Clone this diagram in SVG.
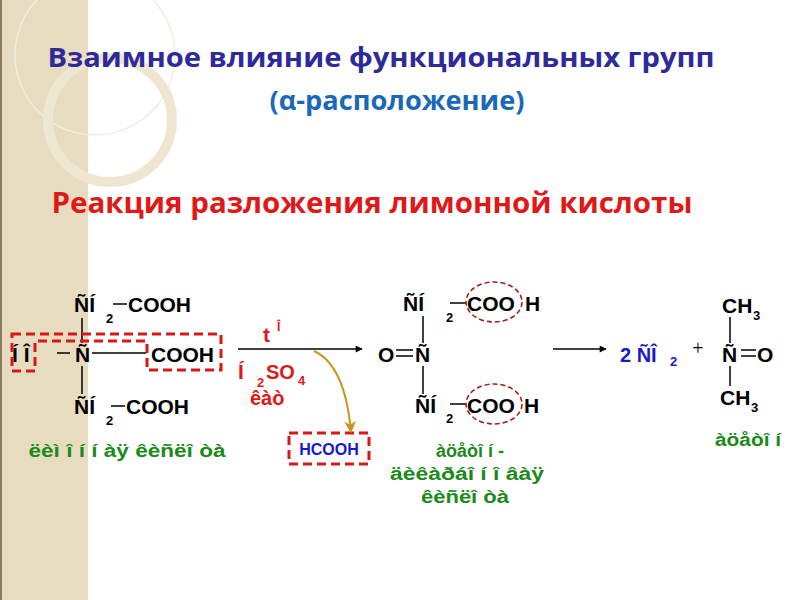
<svg xmlns="http://www.w3.org/2000/svg" width="800" height="600" viewBox="0 0 800 600">
<defs>
<style>
.t{font-family:"Liberation Sans",Arial,sans-serif;font-weight:bold;}
.k{fill:#000;font-size:21px}
.s{font-size:13px}
.g{fill:#1a8a1a;font-size:18px;text-anchor:middle}
.r{fill:#e01818}
.ln{stroke:#000;stroke-width:1.5;fill:none}
.dash{stroke:#d81818;stroke-width:3;stroke-dasharray:9 5;fill:none}
.ov{stroke:#a01818;stroke-width:1.5;stroke-dasharray:5 3;fill:none}
.h{font-family:"Open Sans","Noto Sans",sans-serif;font-weight:bold;text-anchor:middle}
</style>
<marker id="ah" viewBox="0 0 10 10" refX="9" refY="5" markerWidth="14" markerHeight="7" orient="auto" markerUnits="userSpaceOnUse"><path d="M0,0 L10,5 L0,10 Z" fill="#000"/></marker>
<marker id="ahb" viewBox="0 0 10 10" refX="9" refY="5" markerWidth="12" markerHeight="12" orient="auto" markerUnits="userSpaceOnUse"><path d="M0,0 L10,5 L0,10 L3,5 Z" fill="#c8961e"/></marker>
</defs>
<rect width="800" height="600" fill="#fff"/>
<rect x="0" y="0" width="88" height="600" fill="#e8dcc0"/>
<line x1="1" y1="0" x2="1" y2="600" stroke="#8a7a60" stroke-width="2"/>
<circle cx="95" cy="55" r="80" fill="none" stroke="#f3ecdc" stroke-width="1.5"/>
<circle cx="110" cy="120" r="62" fill="none" stroke="#efe6d2" stroke-width="10"/>
<text class="h" x="381" y="67" font-size="26" fill="#2e2a9a" textLength="667" lengthAdjust="spacingAndGlyphs">Взаимное влияние функциональных групп</text>
<text class="h" x="397" y="110" font-size="26" fill="#1a68b8" textLength="255" lengthAdjust="spacingAndGlyphs">(α-расположение)</text>
<text class="h" x="372" y="213" font-size="28" fill="#e01818" textLength="641" lengthAdjust="spacingAndGlyphs">Реакция разложения лимонной кислоты</text>
<g id="reactant">
<text class="t k" x="74" y="312">ÑÍ</text><text class="t s" x="106" y="323">2</text>
<line class="ln" x1="113" y1="304" x2="127" y2="304"/><text class="t k" x="128" y="312">COOH</text>
<text class="t k" x="12" y="362">Í Î</text><line class="ln" x1="57" y1="353" x2="70" y2="353"/>
<text class="t k" x="75" y="362">Ñ</text><line class="ln" x1="92" y1="353" x2="146" y2="353"/>
<text class="t k" x="151" y="362">COOH</text>
<line class="ln" x1="82" y1="318" x2="82" y2="343"/><line class="ln" x1="82" y1="366" x2="82" y2="394"/>
<text class="t k" x="74" y="414">ÑÍ</text><text class="t s" x="106" y="425">2</text>
<line class="ln" x1="111" y1="406" x2="125" y2="406"/><text class="t k" x="126" y="414">COOH</text>
<path class="dash" d="M12,334 H221 V370 H147 V341 H35 V371 H12 Z"/>
<text class="t g" x="127" y="457" textLength="197" lengthAdjust="spacingAndGlyphs">ëèì î í í àÿ êèñëî òà</text>
</g>
<g id="conditions">
<text class="t r" x="263" y="342" font-size="21">t</text><text class="t r" x="277" y="331" font-size="12">Î</text>
<text class="t r" x="238" y="379" font-size="21">Í</text><text class="t r" x="257" y="387" font-size="13">2</text><text class="t r" x="266" y="379" font-size="20">SO</text><text class="t r" x="298" y="385" font-size="13">4</text>
<text class="t r" x="250" y="405" font-size="20">êàò</text>
</g>
<g id="hcooh">
<rect class="dash" x="289" y="433" width="80" height="31"/>
<text class="t" x="329" y="455" font-size="16" fill="#1818d0" text-anchor="middle">HCOOH</text>
</g>
<g id="intermediate">
<text class="t k" x="403" y="311">ÑÍ</text><text class="t s" x="446" y="322">2</text>
<line class="ln" x1="450" y1="303" x2="466" y2="303"/><text class="t k" x="467" y="311">COO</text><text class="t k" x="525" y="311">H</text>
<ellipse class="ov" cx="494" cy="302" rx="28" ry="20"/>
<text class="t k" x="378" y="362">O</text>
<line class="ln" x1="396" y1="350" x2="413" y2="350"/><line class="ln" x1="396" y1="356" x2="413" y2="356"/>
<text class="t k" x="415" y="362">Ñ</text>
<line class="ln" x1="423" y1="316" x2="423" y2="343"/><line class="ln" x1="423" y1="366" x2="423" y2="394"/>
<text class="t k" x="415" y="413">ÑÍ</text><text class="t s" x="446" y="423">2</text>
<line class="ln" x1="450" y1="404" x2="466" y2="404"/><text class="t k" x="467" y="413">COO</text><text class="t k" x="524" y="413">H</text>
<ellipse class="ov" cx="494" cy="404" rx="28" ry="20"/>
<text class="t g" x="470" y="457" textLength="68" lengthAdjust="spacingAndGlyphs">àöåòî í -</text>
<text class="t g" x="467" y="480" textLength="154" lengthAdjust="spacingAndGlyphs">äèêàðáî í î âàÿ</text>
<text class="t g" x="465" y="503" textLength="88" lengthAdjust="spacingAndGlyphs">êèñëî òà</text>
</g>
<g id="products">
<text class="t" x="620" y="362" font-size="20" fill="#1818d0">2 ÑÎ</text><text class="t" x="670" y="366" font-size="13" fill="#1818d0">2</text>
<text x="698" y="355" font-size="20" font-family="Liberation Serif,serif" text-anchor="middle">+</text>
<text class="t k" x="722" y="313">CH</text><text class="t s" x="753" y="320">3</text>
<line class="ln" x1="730" y1="317" x2="730" y2="343"/>
<text class="t k" x="722" y="362">Ñ</text>
<line class="ln" x1="741" y1="350" x2="756" y2="350"/><line class="ln" x1="741" y1="356" x2="756" y2="356"/>
<text class="t k" x="757" y="362">O</text>
<line class="ln" x1="730" y1="366" x2="730" y2="386"/>
<text class="t k" x="720" y="405">CH</text><text class="t s" x="751" y="412">3</text>
<text class="t g" x="748" y="446" textLength="66" lengthAdjust="spacingAndGlyphs">àöåòî í</text>
</g>
<g id="connectors">
<line class="ln" x1="238" y1="349" x2="362" y2="349" marker-end="url(#ah)"/>
<path d="M314,351 Q345,365 351,432" stroke="#c8961e" stroke-width="2" fill="none" marker-end="url(#ahb)"/>
<line class="ln" x1="553" y1="349" x2="606" y2="349" marker-end="url(#ah)"/>
</g>
</svg>
